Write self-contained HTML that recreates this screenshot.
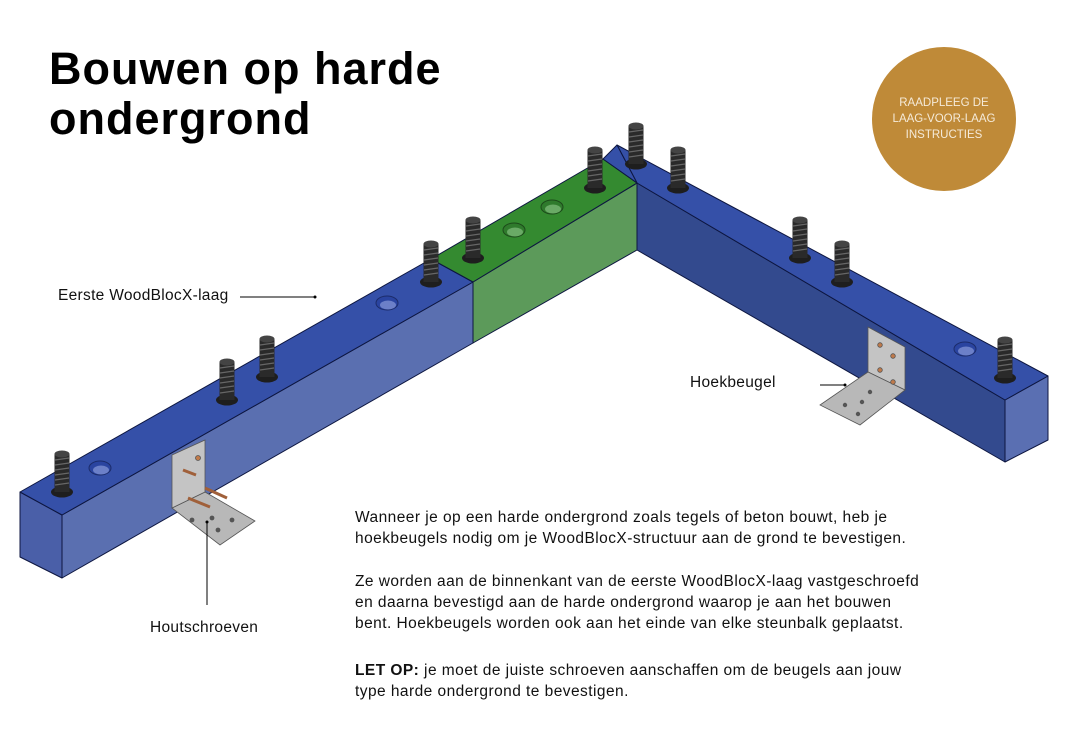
<!DOCTYPE html>
<html><head><meta charset="utf-8"><style>
html,body{margin:0;padding:0;background:#fff;}
body{width:1069px;height:743px;position:relative;overflow:hidden;font-family:"Liberation Sans",sans-serif;}
h1{position:absolute;left:49px;top:44px;margin:0;font-size:45px;line-height:50px;font-weight:bold;color:#000;letter-spacing:1px;}
.circ{position:absolute;left:872px;top:47px;width:144px;height:144px;border-radius:50%;background:#bf8a38;color:#f5ead8;font-size:11.5px;line-height:16px;text-align:center;display:flex;align-items:center;justify-content:center;}
.p{position:absolute;left:355px;font-size:15.5px;line-height:21px;color:#111;letter-spacing:0.45px;white-space:nowrap;}
.lbl{position:absolute;font-size:15.5px;color:#111;letter-spacing:0.3px;}
</style></head><body>
<svg width="1069" height="743" style="position:absolute;left:0;top:0">
<defs>
<g id="bolt">
<ellipse cx="0" cy="0" rx="11" ry="5.5" fill="#1e1e1e"/>
<rect x="-7.5" y="-38" width="15" height="38" fill="#2a2a2a"/>
<g stroke="#666" stroke-width="1.2">
<line x1="-7" y1="-32" x2="7" y2="-34"/><line x1="-7" y1="-27" x2="7" y2="-29"/><line x1="-7" y1="-22" x2="7" y2="-24"/><line x1="-7" y1="-17" x2="7" y2="-19"/><line x1="-7" y1="-12" x2="7" y2="-14"/><line x1="-7" y1="-7" x2="7" y2="-9"/></g>
<ellipse cx="0" cy="-38" rx="7.5" ry="3.5" fill="#444"/>
</g>
<g id="hole"><ellipse cx="0" cy="0" rx="11" ry="7" fill="#2a44a0" stroke="#1c2c6a" stroke-width="1"/><ellipse cx="1" cy="2" rx="8" ry="4.5" fill="#6c80c8"/></g>
<g id="ghole"><ellipse cx="0" cy="0" rx="11" ry="7" fill="#2f7a2c" stroke="#1c4a1a" stroke-width="1"/><ellipse cx="1" cy="2" rx="8" ry="4.5" fill="#6aaa66"/></g>
</defs>
<g stroke="#0d1640" stroke-width="1" stroke-linejoin="round">
<polygon points="637,183 1005,400 1005,462 637,250" fill="#334a8e"/>
<polygon points="1005,400 1048,376 1048,440 1005,462" fill="#5a6fb2"/>
<polygon points="617,145 1048,376 1005,400 637,183" fill="#3550a8"/>
<polygon points="62,515 473,282 473,343 62,578" fill="#5a6fb0"/>
<polygon points="473,282 637,183 637,250 473,343" fill="#5c9a5a"/>
<polygon points="20,492 62,515 62,578 20,557" fill="#4a5fa8"/>
<polygon points="20,492 431,259 473,282 62,515" fill="#3550a8"/>
<polygon points="431,259 603,159 637,183 473,282" fill="#348a30"/>
<polygon points="603,159 617,145 637,183" fill="#3550a8"/>
</g>
<use href="#hole" x="387" y="303"/>
<use href="#hole" x="100" y="468"/>
<use href="#hole" x="965" y="349"/>
<use href="#ghole" x="514" y="230"/>
<use href="#ghole" x="552" y="207"/>
<use href="#bolt" x="62" y="492"/>
<use href="#bolt" x="227" y="400"/>
<use href="#bolt" x="267" y="377"/>
<use href="#bolt" x="431" y="282"/>
<use href="#bolt" x="473" y="258"/>
<use href="#bolt" x="595" y="188"/>
<use href="#bolt" x="636" y="164"/>
<use href="#bolt" x="678" y="188"/>
<use href="#bolt" x="800" y="258"/>
<use href="#bolt" x="842" y="282"/>
<use href="#bolt" x="1005" y="378"/>
<g stroke="#555" stroke-width="0.8">
<polygon points="172,508 205,492 255,521 220,545" fill="#b8b8b8"/>
<polygon points="172,455 205,440 205,492 172,508" fill="#c4c4c4"/>
<circle cx="192" cy="520" r="2" fill="#555"/><circle cx="212" cy="518" r="2" fill="#555"/><circle cx="232" cy="520" r="2" fill="#555"/><circle cx="218" cy="530" r="2" fill="#555"/>
<line x1="183" y1="470" x2="196" y2="475" stroke="#a0603a" stroke-width="3"/>
<line x1="205" y1="488" x2="227" y2="498" stroke="#a0603a" stroke-width="3"/>
<line x1="188" y1="498" x2="210" y2="507" stroke="#a0603a" stroke-width="3"/>
<circle cx="198" cy="458" r="2.5" fill="#c07a4a"/>
</g>
<g stroke="#555" stroke-width="0.8">
<polygon points="868,327 905,347 905,390 868,372" fill="#c4c4c4"/>
<polygon points="820,405 868,372 905,390 860,425" fill="#b8b8b8"/>
<circle cx="880" cy="345" r="2.3" fill="#c07a4a"/><circle cx="893" cy="356" r="2.3" fill="#c07a4a"/><circle cx="880" cy="370" r="2.3" fill="#c07a4a"/><circle cx="893" cy="382" r="2.3" fill="#c07a4a"/>
<circle cx="845" cy="405" r="1.8" fill="#555"/><circle cx="862" cy="402" r="1.8" fill="#555"/><circle cx="870" cy="392" r="1.8" fill="#555"/><circle cx="858" cy="414" r="1.8" fill="#555"/>
</g>
<g stroke="#000" stroke-width="1">
<line x1="240" y1="297" x2="315" y2="297"/>
<line x1="820" y1="385" x2="845" y2="385"/>
<line x1="207" y1="522" x2="207" y2="605"/>
</g>
<circle cx="315" cy="297" r="1.5"/><circle cx="845" cy="385" r="1.5"/><circle cx="207" cy="522" r="1.5"/>
</svg>
<h1>Bouwen op harde<br>ondergrond</h1>
<div class="circ">RAADPLEEG DE<br>LAAG-VOOR-LAAG<br>INSTRUCTIES</div>
<div class="lbl" style="left:58px;top:287px;">Eerste WoodBlocX-laag</div>
<div class="lbl" style="left:690px;top:374px;">Hoekbeugel</div>
<div class="lbl" style="left:150px;top:619px;">Houtschroeven</div>
<div class="p" style="top:507px;">Wanneer je op een harde ondergrond zoals tegels of beton bouwt, heb je<br>hoekbeugels nodig om je WoodBlocX-structuur aan de grond te bevestigen.</div>
<div class="p" style="top:571px;">Ze worden aan de binnenkant van de eerste WoodBlocX-laag vastgeschroefd<br>en daarna bevestigd aan de harde ondergrond waarop je aan het bouwen<br>bent. Hoekbeugels worden ook aan het einde van elke steunbalk geplaatst.</div>
<div class="p" style="top:660px;"><b>LET OP:</b> je moet de juiste schroeven aanschaffen om de beugels aan jouw<br>type harde ondergrond te bevestigen.</div>
</body></html>
